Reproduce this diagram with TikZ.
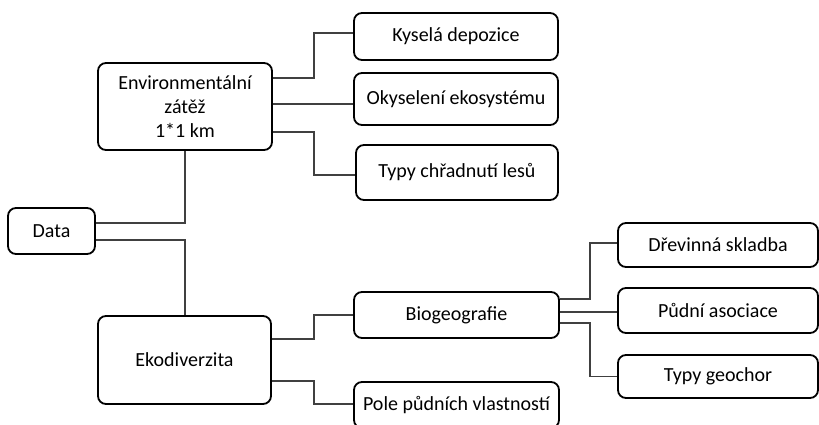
\documentclass[tikz,border=0pt]{standalone}
\usepackage{fontspec}
\setmainfont{Carlito}
\begin{document}
\begin{tikzpicture}[x=1pt,y=-1pt,
  box/.style={draw=black, line width=1.8pt, rounded corners=8pt, inner sep=0pt,
    align=center, font=\fontsize{20}{24}\selectfont},
  conn/.style={draw=black!75, line width=1.2pt}]
\useasboundingbox (0,0) rectangle (819,424);
\node[box, minimum width=87pt, minimum height=46pt] (data) at (51.5,231) {Data};
\node[box, minimum width=174pt, minimum height=87pt] (env) at (185,106.5) {Environmentální\\zátěž\\1*1 km};
\node[box, minimum width=173pt, minimum height=88pt] (eko) at (184.5,360) {Ekodiverzita};
\node[box, minimum width=204pt, minimum height=47pt] (kys) at (456,36.5) {Kyselá depozice};
\node[box, minimum width=204pt, minimum height=52pt] (oky) at (456,99) {Okyselení ekosystému};
\node[box, minimum width=202pt, minimum height=55pt] (typ) at (457,172.5) {Typy chřadnutí lesů};
\node[box, minimum width=205pt, minimum height=46pt] (bio) at (456.5,315) {Biogeografie};
\node[box, minimum width=205pt, minimum height=46pt] (pole) at (456.5,405) {Pole půdních vlastností};
\node[box, minimum width=200pt, minimum height=44pt] (dre) at (718,245) {Dřevinná skladba};
\node[box, minimum width=200pt, minimum height=45pt] (pud) at (718,310.5) {Půdní asociace};
\node[box, minimum width=200pt, minimum height=43pt] (geo) at (718,376.5) {Typy geochor};
% Data
\draw[conn] ([yshift=8pt]data.east) -- ++(89,0) coordinate (d1) -- (d1 |- env.south);
\draw[conn] ([yshift=-9pt]data.east) -- ++(89,0) coordinate (d2) -- (d2 |- eko.north);
% Environmentalni
\draw[conn] ([yshift=28.5pt]env.east) -- ++(41,0) |- ([yshift=3.5pt]kys.west);
\draw[conn] ([yshift=2.5pt]env.east) -- ([yshift=2.5pt]env.east -| oky.west);
\draw[conn] ([yshift=-25.5pt]env.east) -- ++(41,0) |- ([yshift=-2.5pt]typ.west);
% Ekodiverzita
\draw[conn] ([yshift=21pt]eko.east) -- ++(42,0) |- (bio.west);
\draw[conn] ([yshift=-21pt]eko.east) -- ++(42,0) |- ([yshift=1pt]pole.west);
% Biogeografie
\draw[conn] ([yshift=16pt]bio.east) -- ++(30,0) |- ([yshift=2pt]dre.west);
\draw[conn] ([yshift=3pt]bio.east) -- ([yshift=3pt]bio.east -| pud.west);
\draw[conn] ([yshift=-8pt]bio.east) -- ++(30,0) |- (geo.west);
\end{tikzpicture}
\end{document}
